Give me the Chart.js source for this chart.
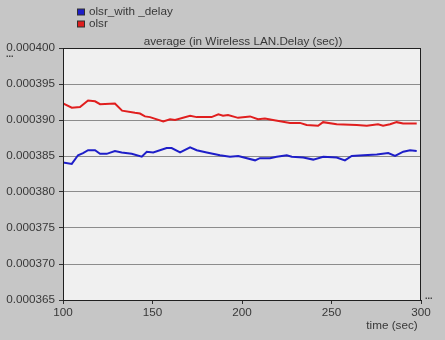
<!DOCTYPE html>
<html>
<head>
<meta charset="utf-8">
<script src="https://cdn.jsdelivr.net/npm/chart.js@4/dist/chart.umd.min.js"></script>
<style>
	html, body { margin: 0; padding: 0; background: #c6c6c6; }
	#wrap { width: 445px; height: 340px; }
</style>
</head>
<body>
<div id="wrap"><canvas id="delayChart" width="445" height="340"></canvas></div>
<script>
// values
var chartTitle = 'average (in Wireless LAN.Delay (sec))';
var xTitle = 'time (sec)';
var seriesNames = ['olsr_with _delay', 'olsr'];
var seriesColors = ['#1e1ec8', '#e01e1e'];

var delayTime = [100, 104.9, 108.4, 111.2, 114, 117.9, 120.7, 124.4, 129, 132.8, 138.4, 144, 146.8, 150.4, 157.9, 160.7, 165.4, 171, 174.7, 180.3, 187.7, 193.3, 197.9, 207.3, 210, 215.6, 219.4, 225, 227.8, 234.2, 239.8, 245.4, 252.9, 257.5, 261.3, 267.8, 275.3, 281.7, 285.5, 290.1, 293.9, 297.6];
var delayValues = [0.0003841, 0.0003839, 0.0003851, 0.0003854, 0.0003858, 0.0003858, 0.0003853, 0.0003853, 0.0003857, 0.0003855, 0.0003853, 0.0003849, 0.0003856, 0.0003855, 0.0003861, 0.0003861, 0.0003855, 0.0003862, 0.0003858, 0.0003855, 0.0003851, 0.0003849, 0.0003850, 0.0003844, 0.0003847, 0.0003847, 0.0003849, 0.0003851, 0.0003849, 0.0003848, 0.0003845, 0.0003849, 0.0003848, 0.0003844, 0.0003850, 0.0003851, 0.0003852, 0.0003854, 0.0003850, 0.0003856, 0.0003858, 0.0003857];

var olsrTime = [100, 104.9, 109.5, 114, 117.9, 120.7, 129, 133, 140.2, 143, 145.8, 148.6, 156, 159.8, 162.6, 171, 174.7, 183, 186.8, 189.4, 192.2, 197.8, 204.5, 208.9, 212.8, 217.3, 226.8, 232.4, 236.1, 242.5, 245.3, 252.9, 264.1, 269.7, 276, 278.8, 282.7, 286.4, 290, 297.6];
var olsrValues = [0.0003923, 0.0003917, 0.0003918, 0.0003927, 0.0003926, 0.0003922, 0.0003923, 0.0003913, 0.0003910, 0.0003909, 0.0003905, 0.0003904, 0.0003898, 0.0003901, 0.0003900, 0.0003906, 0.0003904, 0.0003904, 0.0003908, 0.0003906, 0.0003907, 0.0003903, 0.0003905, 0.0003901, 0.0003902, 0.0003900, 0.0003896, 0.0003896, 0.0003893, 0.0003892, 0.0003897, 0.0003894, 0.0003893, 0.0003892, 0.0003894, 0.0003892, 0.0003894, 0.0003897, 0.0003895, 0.0003895];

var xMin = 100, xMax = 300, xStep = 50;
var yMin = 0.000365, yMax = 0.0004, yStep = 0.000005;

var fontFamily = 'Arial, "Liberation Sans", sans-serif';
var textColor = '#383838';

function toPoints(xs, ys) {
	let pts = [];
	for (let i = 0; i < xs.length; i++) {
		pts.push({ x: xs[i], y: ys[i] });
	}
	return pts;
}

// plot background, border, legend, title and the little dots
const framePlugin = {
	id: 'frame',
	beforeDraw: function(chart) {
		const c = chart.ctx;
		const a = chart.chartArea;
		c.save();
		c.fillStyle = '#c6c6c6';
		c.fillRect(0, 0, chart.width, chart.height);
		c.fillStyle = '#f0f0f0';
		c.fillRect(a.left, a.top, a.right - a.left, a.bottom - a.top);
		c.restore();
	},
	afterDraw: function(chart) {
		const c = chart.ctx;
		const a = chart.chartArea;
		c.save();
		c.strokeStyle = '#202020';
		c.lineWidth = 1;
		c.strokeRect(a.left + 0.5, a.top + 0.5, a.right - a.left - 1, a.bottom - a.top);
		// legend
		c.font = '11.7px ' + fontFamily;
		c.textBaseline = 'middle';
		c.textAlign = 'left';
		for (let i = 0; i < seriesNames.length; i++) {
			let y = 12 + i * 12;
			c.fillStyle = '#303030';
			c.fillRect(77, y - 3.5, 8, 7);
			c.fillStyle = seriesColors[i];
			c.fillRect(78, y - 2.5, 6, 5);
			c.fillStyle = textColor;
			c.fillText(seriesNames[i], 89, y);
		}
		// title
		c.textAlign = 'center';
		c.fillText(chartTitle, 243, 42);
		// x title
		c.fillText(xTitle, 392, 326);
		// dots
		c.font = 'bold 9px ' + fontFamily;
		c.textAlign = 'left';
		c.fillText('...', 6, 55);
		c.fillText('...', 425, 297);
		c.restore();
	}
};

const ctx = document.getElementById('delayChart').getContext('2d');
const myChart = new Chart(ctx, {
	type: 'line',
	data: {
		datasets: [{
			label: seriesNames[0],
			data: toPoints(delayTime, delayValues),
			borderColor: seriesColors[0],
			borderWidth: 2,
			pointRadius: 0,
			tension: 0
		}, {
			label: seriesNames[1],
			data: toPoints(olsrTime, olsrValues),
			borderColor: seriesColors[1],
			borderWidth: 2,
			pointRadius: 0,
			tension: 0
		}]
	},
	options: {
		responsive: false,
		animation: false,
		layout: { padding: { top: 48, right: 24, bottom: 0, left: 0 } },
		plugins: {
			legend: { display: false },
			title: { display: false },
			tooltip: { enabled: false }
		},
		scales: {
			x: {
				type: 'linear',
				min: xMin,
				max: xMax,
				ticks: {
					stepSize: xStep,
					color: textColor,
					font: { size: 11.7, family: fontFamily },
					padding: 2,
					maxRotation: 0
				},
				grid: { drawOnChartArea: false, color: '#303030', tickLength: 4 },
				border: { color: '#202020' },
				afterFit: function(scale) { scale.height = 40; }
			},
			y: {
				min: yMin,
				max: yMax,
				ticks: {
					stepSize: yStep,
					color: textColor,
					font: { size: 11.7, family: fontFamily },
					padding: 4,
					callback: function(v) { return v.toFixed(6); }
				},
				grid: { color: '#8c8c8c', tickLength: 4, tickColor: '#303030' },
				border: { color: '#202020' },
				afterFit: function(scale) { scale.width = 63; }
			}
		}
	},
	plugins: [framePlugin]
});
</script>
</body>
</html>
